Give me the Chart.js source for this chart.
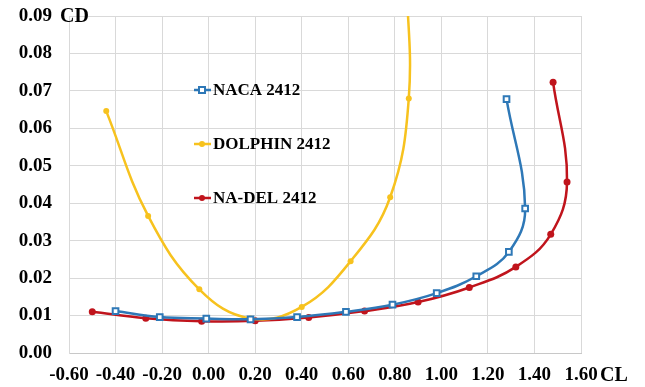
<!DOCTYPE html>
<html>
<head>
<meta charset="utf-8">
<script src="https://cdn.jsdelivr.net/npm/chart.js@4.4.1/dist/chart.umd.min.js"></script>
<style>
  html, body { margin: 0; padding: 0; background: #fff; }
</style>
</head>
<body>
<canvas id="grafico" width="645" height="387"></canvas>
<script>
// valores (CL en x, CD en y)
const nacaCL = [-0.40, -0.21, -0.01, 0.18, 0.38, 0.59, 0.79, 0.98, 1.15, 1.29, 1.36, 1.28];
const nacaCD = [0.0112, 0.0096, 0.0092, 0.0090, 0.0096, 0.0110, 0.0129, 0.0160, 0.0205, 0.0270, 0.0386, 0.0678];

const dolphinCL = [-0.44, -0.26, -0.04, 0.18, 0.40, 0.61, 0.78, 0.86, 0.85];
const dolphinCD = [0.0646, 0.0366, 0.0170, 0.0092, 0.0123, 0.0245, 0.0416, 0.0680, 0.1000];

const nadelCL = [-0.50, -0.27, -0.03, 0.20, 0.43, 0.67, 0.90, 1.12, 1.32, 1.47, 1.54, 1.48];
const nadelCD = [0.0110, 0.0093, 0.0085, 0.0086, 0.0095, 0.0112, 0.0136, 0.0175, 0.0230, 0.0317, 0.0457, 0.0723];

const etiquetas = ['NACA 2412', 'DOLPHIN 2412', 'NA-DEL 2412'];

const fuente = '"Liberation Serif", "Times New Roman", serif';

function puntos(xs, ys) {
  return xs.map((x, i) => ({ x: x, y: ys[i] }));
}

// leyenda dentro del area del grafico, como en el original
const leyenda = {
  id: 'leyenda',
  afterDatasetsDraw(chart) {
    const ctx = chart.ctx;
    const filas = [90, 144, 198];
    chart.data.datasets.forEach((ds, i) => {
      const y = filas[i];
      ctx.save();
      ctx.strokeStyle = ds.borderColor;
      ctx.lineWidth = 2.5;
      ctx.beginPath();
      ctx.moveTo(194, y);
      ctx.lineTo(211, y);
      ctx.stroke();
      if (ds.pointStyle === 'rect') {
        ctx.fillStyle = '#fff';
        ctx.lineWidth = 2;
        ctx.fillRect(199, y - 3, 6, 6);
        ctx.strokeRect(199, y - 3, 6, 6);
      } else {
        ctx.fillStyle = ds.borderColor;
        ctx.beginPath();
        ctx.arc(202, y, 3, 0, Math.PI * 2);
        ctx.fill();
      }
      ctx.fillStyle = '#000';
      ctx.font = 'bold 17px ' + fuente;
      ctx.textBaseline = 'middle';
      ctx.textAlign = 'left';
      ctx.fillText(ds.label, 213, y + 1);
      ctx.restore();
    });
  }
};

// titulos de ejes CD y CL junto a las marcas
const titulosEjes = {
  id: 'titulosEjes',
  afterDraw(chart) {
    const ctx = chart.ctx;
    const area = chart.chartArea;
    ctx.save();
    ctx.fillStyle = '#000';
    ctx.font = 'bold 20px ' + fuente;
    ctx.textBaseline = 'middle';
    ctx.textAlign = 'left';
    ctx.fillText('CD', 60, area.top + 1);
    ctx.fillText('CL', area.right + 19, 376);
    ctx.restore();
  }
};

new Chart(document.getElementById('grafico'), {
  type: 'scatter',
  data: {
    datasets: [
      {
        label: etiquetas[0],
        data: puntos(nacaCL, nacaCD),
        borderColor: '#2e78b7',
        backgroundColor: '#ffffff',
        pointStyle: 'rect',
        pointRadius: 4,
        pointBorderWidth: 2,
        borderWidth: 2.5,
        showLine: true,
        tension: 0.4,
        capBezierPoints: false
      },
      {
        label: etiquetas[1],
        data: puntos(dolphinCL, dolphinCD),
        borderColor: '#f7c21e',
        backgroundColor: '#f7c21e',
        pointStyle: 'circle',
        pointRadius: 3,
        pointBorderWidth: 0,
        borderWidth: 2.5,
        showLine: true,
        tension: 0.4,
        capBezierPoints: false
      },
      {
        label: etiquetas[2],
        data: puntos(nadelCL, nadelCD),
        borderColor: '#c0141c',
        backgroundColor: '#c0141c',
        pointStyle: 'circle',
        pointRadius: 3.5,
        pointBorderWidth: 0,
        borderWidth: 2.5,
        showLine: true,
        tension: 0.4,
        capBezierPoints: false
      }
    ]
  },
  options: {
    responsive: false,
    animation: false,
    layout: { padding: { left: 0, right: 64, top: 16, bottom: 0 } },
    plugins: {
      legend: { display: false },
      tooltip: { enabled: false }
    },
    scales: {
      x: {
        type: 'linear',
        min: -0.6,
        max: 1.6,
        afterFit: (s) => { s.height = 34; s.paddingLeft = 0; s.paddingRight = 0; },
        grid: { color: '#d9d9d9', drawTicks: false },
        border: { color: '#c8c8c8' },
        ticks: {
          stepSize: 0.2,
          padding: 11,
          color: '#000',
          font: { family: fuente, size: 19, weight: 'bold' },
          callback: (v) => Number(v).toFixed(2)
        }
      },
      y: {
        type: 'linear',
        min: 0,
        max: 0.09,
        afterFit: (s) => { s.width = 69; s.paddingTop = 0; s.paddingBottom = 0; },
        grid: { color: '#d9d9d9', drawTicks: false },
        border: { color: '#d9d9d9' },
        ticks: {
          stepSize: 0.01,
          padding: 17,
          color: '#000',
          font: { family: fuente, size: 19, weight: 'bold' },
          callback: (v) => Number(v).toFixed(2)
        }
      }
    }
  },
  plugins: [leyenda, titulosEjes]
});
</script>
</body>
</html>
